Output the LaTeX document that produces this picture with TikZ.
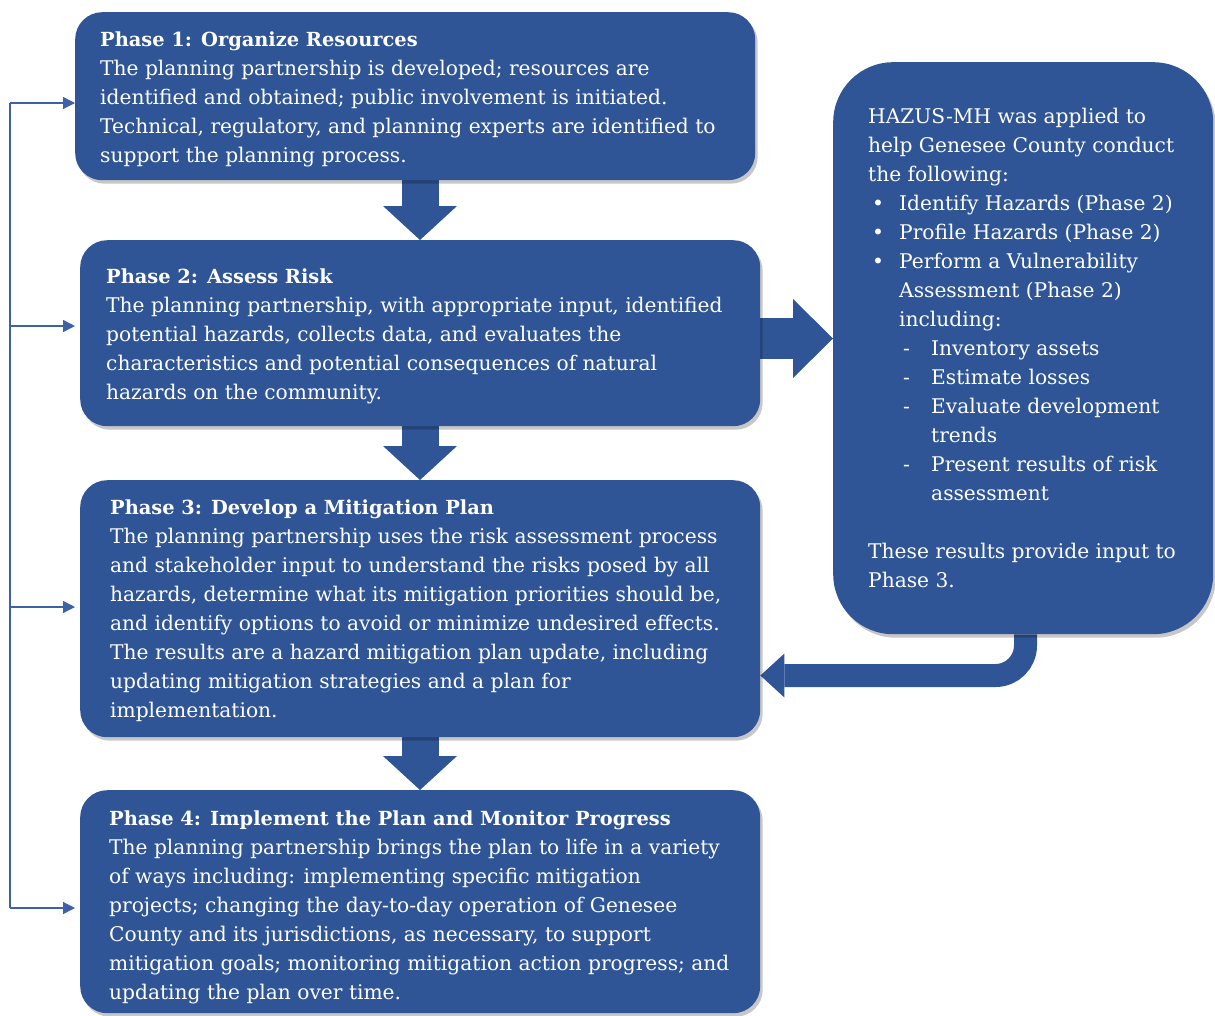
\documentclass[tikz,border=0pt]{standalone}
\usepackage{fontspec}
\setmainfont{DejaVu Serif}
\usetikzlibrary{shadows,arrows.meta}
\definecolor{boxblue}{RGB}{47,85,151}
\definecolor{lineblue}{RGB}{60,97,168}
\pgfdeclarelayer{bg}
\pgfsetlayers{bg,main}
\newcommand\bodyfont{\fontsize{20.2}{29}\selectfont}
\newcommand\hd[1]{{\fontsize{19.4}{29}\selectfont\bfseries #1}}
\newcommand\bul{\makebox[31pt][l]{\hspace{4pt}•}}
\newcommand\dsh{\hspace*{31pt}\makebox[32pt][l]{\hspace{4pt}-}}
\begin{document}
\begin{tikzpicture}[x=1pt,y=-1pt,
  box/.style={fill=boxblue, rounded corners=27pt, anchor=north west, inner sep=0pt,
    drop shadow={shadow xshift=2.5pt, shadow yshift=-3.5pt, opacity=0.22, fill=black}},
  txt/.style={anchor=north west, inner sep=0pt, align=left, text=white, font=\bodyfont},
  barrow/.style={draw=boxblue, line cap=butt},
  fb/.style={draw=lineblue, line width=1.3pt}]
\useasboundingbox (0,0) rectangle (1215,1015);
% boxes
\node[box, minimum width=680pt, minimum height=168pt] (p1) at (75,12) {};
\node[box, minimum width=680pt, minimum height=186pt] (p2) at (80,240) {};
\node[box, minimum width=680pt, minimum height=257pt] (p3) at (80,480) {};
\node[box, minimum width=680pt, minimum height=223pt] (p4) at (80,790) {};
\node[box, rounded corners=60pt, minimum width=380pt, minimum height=572pt] (hz) at (833,62) {};
% texts
\node[txt] (t1) at (100,31.5) {\hd{Phase 1: Organize Resources}\\
The planning partnership is developed; resources are\\
identified and obtained; public involvement is initiated.\\
Technical, regulatory, and planning experts are identified to\\
support the planning process.};
\node[txt] (t2) at (106,268.5) {\hd{Phase 2: Assess Risk}\\
The planning partnership, with appropriate input, identified\\
potential hazards, collects data, and evaluates the\\
characteristics and potential consequences of natural\\
hazards on the community.};
\node[txt] (t3) at (110,499.5) {\hd{Phase 3: Develop a Mitigation Plan}\\
The planning partnership uses the risk assessment process\\
and stakeholder input to understand the risks posed by all\\
hazards, determine what its mitigation priorities should be,\\
and identify options to avoid or minimize undesired effects.\\
The results are a hazard mitigation plan update, including\\
updating mitigation strategies and a plan for\\
implementation.};
\node[txt] (t4) at (109,810.5) {\hd{Phase 4: Implement the Plan and Monitor Progress}\\
The planning partnership brings the plan to life in a variety\\
of ways including: implementing specific mitigation\\
projects; changing the day-to-day operation of Genesee\\
County and its jurisdictions, as necessary, to support\\
mitigation goals; monitoring mitigation action progress; and\\
updating the plan over time.};
\node[txt] (th) at (868,107.5) {HAZUS-MH was applied to\\
help Genesee County conduct\\
the following:\\
\bul Identify Hazards (Phase 2)\\
\bul Profile Hazards (Phase 2)\\
\bul Perform a Vulnerability\\
\hspace*{31pt}Assessment (Phase 2)\\
\hspace*{31pt}including:\\
\dsh Inventory assets\\
\dsh Estimate losses\\
\dsh Evaluate development\\
\hspace*{63pt}trends\\
\dsh Present results of risk\\
\hspace*{63pt}assessment\\[29pt]
These results provide input to\\
Phase 3.};
% helper coordinates
\coordinate (cx) at (420,0);
\coordinate (ry) at (0,338.5);
\coordinate (bx) at (1025.5,0);
\coordinate (by) at (0,675.5);
\coordinate (L1) at (10,103);
\coordinate (L2) at (10,326);
\coordinate (L3) at (10,607);
\coordinate (L4) at (10,908);
% block arrows
\begin{pgfonlayer}{bg}
\draw[barrow, line width=37pt, -{Triangle[length=34pt,width=74pt,line width=0pt]}] (p1.south -| cx) -- (p2.north -| cx);
\draw[barrow, line width=37pt, -{Triangle[length=34pt,width=74pt,line width=0pt]}] (p2.south -| cx) -- (p3.north -| cx);
\draw[barrow, line width=37pt, -{Triangle[length=34pt,width=74pt,line width=0pt]}] (p3.south -| cx) -- (p4.north -| cx);
\draw[barrow, line width=41pt, -{Triangle[length=40pt,width=79pt,line width=0pt]}] (p2.east |- ry) -- (hz.west |- ry);
\draw[barrow, line width=23pt, rounded corners=30pt, -{Triangle[length=24pt,width=44pt,line width=0pt]}] (hz.south -| bx) |- (p3.east |- by);
\end{pgfonlayer}
% feedback lines
\draw[fb] (L1) -- (L4);
\draw[fb, -{Triangle[length=12pt,width=12pt]}] (L1) -- (p1.west |- L1);
\draw[fb, -{Triangle[length=12pt,width=12pt]}, shorten >=5pt] (L2) -- (p2.west |- L2);
\draw[fb, -{Triangle[length=12pt,width=12pt]}, shorten >=5pt] (L3) -- (p3.west |- L3);
\draw[fb, -{Triangle[length=12pt,width=12pt]}, shorten >=5pt] (L4) -- (p4.west |- L4);
\end{tikzpicture}
\end{document}
